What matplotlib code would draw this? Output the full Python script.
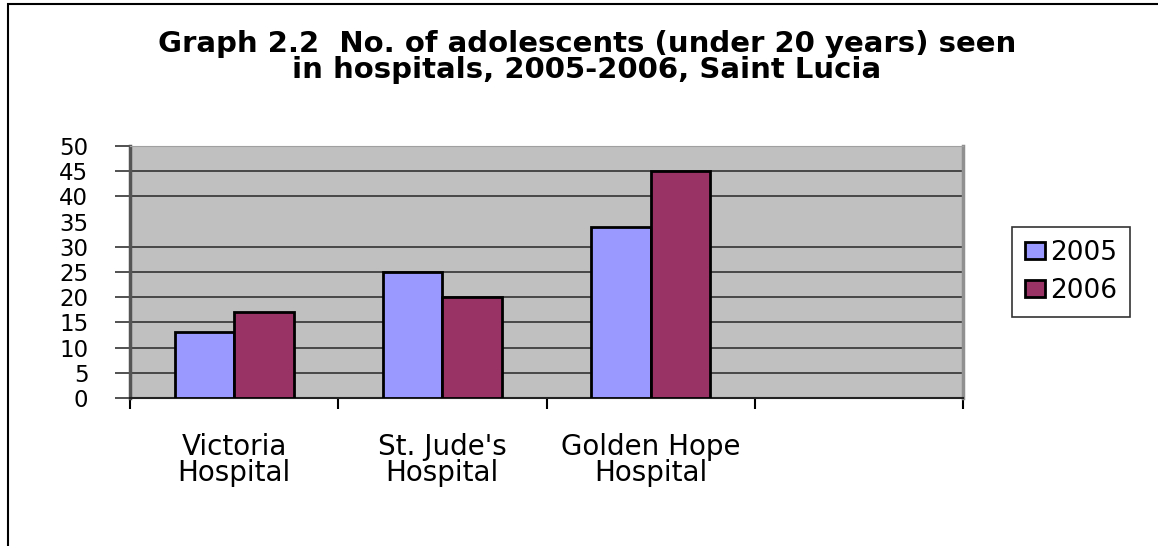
#Graph 2.2 adolescents seen in hospitals, Saint Lucia

import numpy as np
import matplotlib.pyplot as plt
from matplotlib.patches import Rectangle

hospitals = ["Victoria\nHospital", "St. Jude's\nHospital", "Golden Hope\nHospital"]
years = ["2005", "2006"]
seen_2005 = [13, 25, 34]
seen_2006 = [17, 20, 45]
y_ticks = [0, 5, 10, 15, 20, 25, 30, 35, 40, 45, 50]
no_line = [35]   # the original has no grid line / tick mark at 35

plt.rcParams['font.family'] = ['DejaVu Sans']

fig = plt.figure(figsize=(11.58, 5.46), dpi=100)
ax = fig.add_axes([130/1158, 1 - 398/546, (963 - 130)/1158, (398 - 146)/546])
ax.set_facecolor('#C0C0C0')

x = np.arange(len(hospitals))
w = 1 / 3.5
ax.bar(x - w/2, seen_2005, w, color='#9999FF', edgecolor='black', linewidth=2, label=years[0], zorder=3)
ax.bar(x + w/2, seen_2006, w, color='#993366', edgecolor='black', linewidth=2, label=years[1], zorder=3)

#y axis
major_y = [v for v in y_ticks if v not in no_line]
ax.set_ylim(0, 50)
ax.set_yticks(major_y)
ax.set_yticklabels([str(v) for v in major_y], fontsize=16.5)
ax.set_yticks(no_line, minor=True)
ax.set_yticklabels([str(v) for v in no_line], minor=True, fontsize=16.5)
ax.yaxis.grid(True, which='major', color='#333333', linewidth=1.2, zorder=1)
ax.set_axisbelow(True)
# tick length 11 + pad 19 = 30, same spot for the 35 label without a tick
ax.tick_params(axis='y', which='major', direction='out', length=11, width=1.2, color='#333333', pad=19)
ax.tick_params(axis='y', which='minor', length=0, pad=30)

#x axis: tick marks between categories, labels in the middle
ax.set_xlim(-0.5, len(hospitals) + 0.5)
ax.set_xticks(np.arange(-0.5, len(hospitals) + 1, 1))
ax.set_xticklabels([])
ax.tick_params(axis='x', which='major', direction='out', length=8, width=1.5, color='black')
ax.set_xticks(x, minor=True)
ax.set_xticklabels(hospitals, minor=True, fontsize=20, linespacing=0.9)
ax.tick_params(axis='x', which='minor', length=0, pad=25)

ax.spines['left'].set_color('#555555')
ax.spines['left'].set_linewidth(2.5)
ax.spines['bottom'].set_color('#222222')
ax.spines['bottom'].set_linewidth(1.5)
ax.spines['top'].set_color('#A0A0A0')
ax.spines['right'].set_color('#909090')
ax.spines['right'].set_linewidth(2.5)

#legend
leg = fig.legend(loc='center', bbox_to_anchor=(1071/1158, 1 - 272/546), fontsize=19,
                 frameon=True, fancybox=False, edgecolor='black', handlelength=0.75,
                 handleheight=0.6, handletextpad=0.2, labelspacing=0.45, borderpad=0.5)
leg.get_frame().set_linewidth(1.2)

#title
fig.text(587/1158, 1 - 57/546,
         "Graph 2.2  No. of adolescents (under 20 years) seen\nin hospitals, 2005-2006, Saint Lucia",
         ha='center', va='center', fontsize=21, fontweight='bold', linespacing=0.95)

#frame around the chart
fig.add_artist(Rectangle((8/1158, -0.1), 1.2, 1.1 - 4/546, transform=fig.transFigure,
                         fill=False, edgecolor='black', linewidth=1.5))

plt.savefig("out.png", dpi=100)
